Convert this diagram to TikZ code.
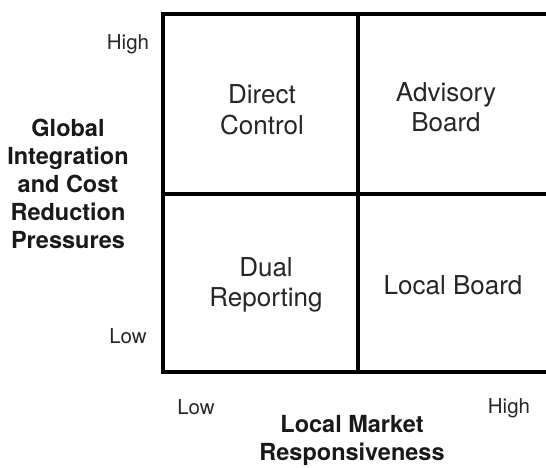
\documentclass[tikz,border=0pt]{standalone}
\usepackage{fontspec}
\setmainfont{TeX Gyre Heros}
\begin{document}
\begin{tikzpicture}[x=1pt,y=-1pt,
  gridline/.style={line width=4pt,line cap=butt},
  cell/.style={align=center,font=\fontsize{26}{30.5}\selectfont,text=black!85},
  tick/.style={font=\fontsize{20.5}{22}\selectfont,text=black!85},
  axis/.style={align=center,font=\fontsize{23.5}{28}\selectfont\bfseries,text=black!90}]
\useasboundingbox (0,0) rectangle (546,467);
\coordinate (tl) at (163,14);
\coordinate (tr) at (546,14);
\coordinate (bl) at (163,372);
\coordinate (br) at (546,372);
\coordinate (mt) at (358,14);
\coordinate (mb) at (358,372);
\coordinate (ml) at (163,194);
\coordinate (mr) at (546,194);
\draw[gridline] (tr) -- (tl) -- (bl) -- (br);
\draw[gridline] (mt) -- (mb);
\draw[gridline] (ml) -- (mr);
\node[cell] (dc) at (262,110) {Direct\\Control};
\node[cell] (ab) at (446,107) {Advisory\\Board};
\node[cell] (dr) at (266,285) {Dual\\Reporting};
\node[cell] (lb) at (453,285) {Local Board};
\node[tick] (yh) at (128,44) {High};
\node[tick] (yl) at (128,336) {Low};
\node[tick] (xl) at (196,407) {Low};
\node[tick] (xh) at (509,408) {High};
\node[axis] (ya) at (68,184) {Global\\Integration\\and Cost\\Reduction\\Pressures};
\node[axis] (xa) at (352,440) {Local Market\\Responsiveness};
\end{tikzpicture}
\end{document}
